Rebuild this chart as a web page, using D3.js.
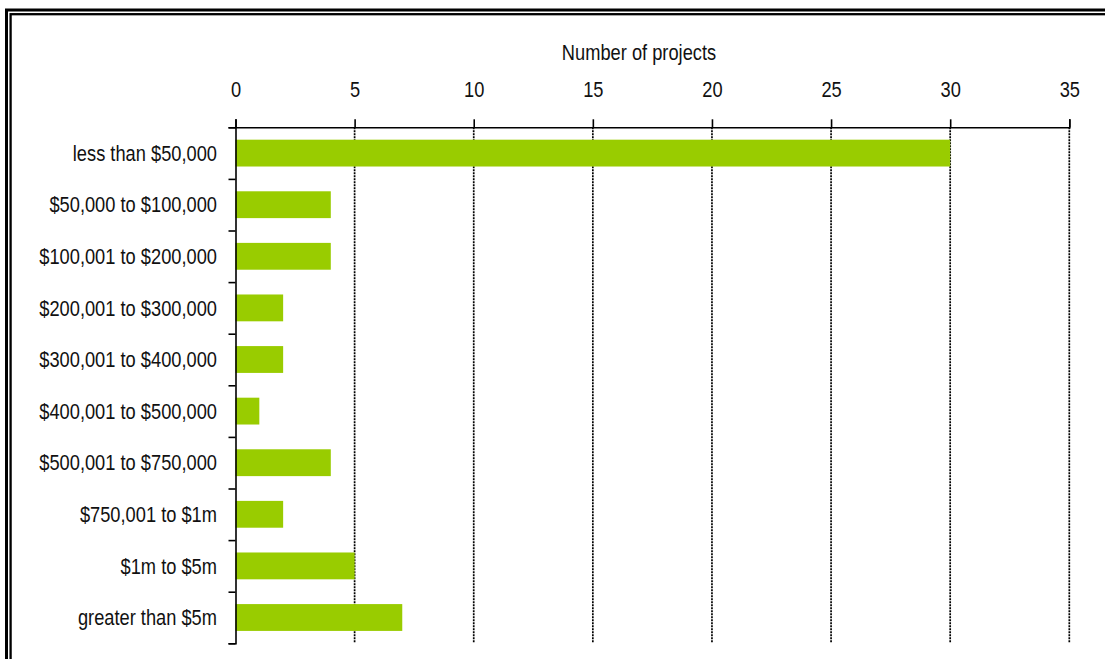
<!DOCTYPE html>
<html>
<head>
<meta charset="utf-8">
<script src="https://cdn.jsdelivr.net/npm/d3@7"></script>
<style>
  body { margin: 0; background: #fff; }
  svg text { font-family: "Liberation Sans Narrow", "Arial Narrow", "Liberation Sans", Arial, sans-serif; fill: #111; }
</style>
</head>
<body>
<div id="chart"></div>
<script>
//---------------------------------- Data --------------------
var categories = ["less than $50,000", "$50,000 to $100,000", "$100,001 to $200,000",
                  "$200,001 to $300,000", "$300,001 to $400,000", "$400,001 to $500,000",
                  "$500,001 to $750,000", "$750,001 to $1m", "$1m to $5m", "greater than $5m"];
var projects = [30, 4, 4, 2, 2, 1, 4, 2, 5, 7];
var xTicks = [0, 5, 10, 15, 20, 25, 30, 35];
var axisTitle = "Number of projects";

//---------------------------------- View --------------------
var width = 1105, height = 659;
var plotLeft = 235.5, plotRight = 1069.3, plotTop = 127.3, plotBottom = 643.3;
var fontSize = "21px";
var squeeze = "scale(0.87,1.03)";   // narrow font look

var svg = d3.select("#chart").append("svg")
    .attr("width", width)
    .attr("height", height);

svg.append("rect").attr("width", width).attr("height", height).attr("fill", "#fff");

// double frame, cut off on the right and bottom
svg.append("rect")
    .attr("x", 6.5).attr("y", 10)
    .attr("width", 1300).attr("height", 1000)
    .attr("fill", "none").attr("stroke", "#000").attr("stroke-width", 3);
svg.append("rect")
    .attr("x", 10.6).attr("y", 14.2)
    .attr("width", 1300).attr("height", 1000)
    .attr("fill", "none").attr("stroke", "#000").attr("stroke-width", 2.3);

var x_scale = d3.scaleLinear().domain([0, 35]).range([plotLeft, plotRight]);

var y_scale = d3.scaleBand()
    .domain(categories)
    .range([plotTop, plotBottom])
    .paddingInner(0.48)
    .paddingOuter(0.24);

// band edges for the left axis ticks
var y_edges = d3.scaleLinear().domain([0, categories.length]).range([plotTop, plotBottom]);

// ---------- gridlines ----------
svg.selectAll(".grid").data(xTicks.slice(1)).enter().append("line")
    .attr("class", "grid")
    .attr("x1", function(d) { return x_scale(d); })
    .attr("x2", function(d) { return x_scale(d); })
    .attr("y1", plotTop)
    .attr("y2", plotBottom)
    .attr("stroke", "#000")
    .attr("stroke-width", 1.7)
    .attr("stroke-dasharray", "2,1");

// ---------- bars ----------
svg.selectAll(".bar").data(projects).enter().append("rect")
    .attr("class", "bar")
    .attr("x", x_scale(0))
    .attr("y", function(d, i) { return y_scale(categories[i]); })
    .attr("width", function(d) { return x_scale(d) - x_scale(0); })
    .attr("height", y_scale.bandwidth())
    .attr("fill", "#99cc00");

// ---------- x axis (top) ----------
var xAxis = svg.append("g")
    .attr("transform", "translate(0," + plotTop + ")")
    .call(d3.axisTop(x_scale).tickValues(xTicks).tickSize(8).tickSizeOuter(8).tickPadding(21));
xAxis.select(".domain").attr("stroke", "#000").attr("stroke-width", 1.6);
xAxis.selectAll(".tick line").attr("stroke", "#000").attr("stroke-width", 1.6);
xAxis.selectAll(".tick text")
    .attr("transform", squeeze)
    .attr("fill", "#111")
    .style("font-size", fontSize);

// ---------- y axis (left) ----------
var yAxis = svg.append("g")
    .attr("transform", "translate(" + plotLeft + ",0)")
    .call(d3.axisLeft(y_edges).ticks(categories.length).tickSize(7).tickSizeOuter(7).tickFormat(""));
yAxis.select(".domain").attr("stroke", "#000").attr("stroke-width", 1.6);
yAxis.selectAll(".tick line").attr("stroke", "#000").attr("stroke-width", 1.6);

svg.selectAll(".cat_label").data(categories).enter().append("g")
    .attr("class", "cat_label")
    .attr("transform", function(d) { return "translate(217," + (y_scale(d) + y_scale.bandwidth() / 2) + ")"; })
  .append("text")
    .attr("transform", squeeze)
    .attr("dy", "0.36em")
    .attr("text-anchor", "end")
    .style("font-size", fontSize)
    .text(function(d) { return d; });

// ---------- axis title ----------
svg.append("g")
    .attr("transform", "translate(639,60)")
  .append("text")
    .attr("transform", squeeze)
    .attr("text-anchor", "middle")
    .style("font-size", fontSize)
    .text(axisTitle);
</script>
</body>
</html>
